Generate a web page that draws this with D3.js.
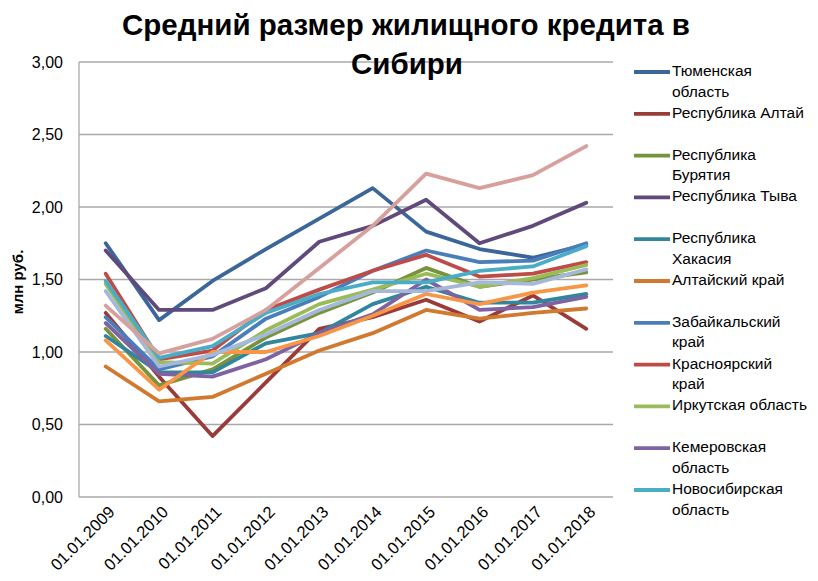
<!DOCTYPE html>
<html lang="ru">
<head>
<meta charset="utf-8">
<script src="https://cdn.jsdelivr.net/npm/d3@7"></script>
<style>
  html, body { margin: 0; padding: 0; background: #fff; }
  svg { display: block; font-family: "Liberation Sans", Arial, sans-serif; }
</style>
</head>
<body>
<svg id="chart" width="818" height="581"></svg>
<script>
// Даты (на 1 января каждого года)
const years = ["01.01.2009", "01.01.2010", "01.01.2011", "01.01.2012", "01.01.2013",
               "01.01.2014", "01.01.2015", "01.01.2016", "01.01.2017", "01.01.2018"];

// Средний размер жилищного кредита, млн руб.
const tyumen       = [1.75, 1.22, 1.49, 1.71, 1.92, 2.13, 1.83, 1.71, 1.65, 1.74];
const altaiRep     = [1.27, 0.83, 0.42, 0.79, 1.16, 1.24, 1.36, 1.21, 1.39, 1.16];
const buryatia     = [1.16, 0.77, 0.88, 1.10, 1.27, 1.41, 1.58, 1.45, 1.50, 1.55];
const tyva         = [1.70, 1.29, 1.29, 1.44, 1.76, 1.87, 2.05, 1.75, 1.87, 2.03];
const khakassia    = [1.11, 0.86, 0.86, 1.06, 1.13, 1.33, 1.45, 1.34, 1.34, 1.40];
const altaiKrai    = [0.90, 0.66, 0.69, 0.85, 1.01, 1.13, 1.29, 1.23, 1.27, 1.30];
const zabaikalsky  = [1.24, 0.88, 0.97, 1.23, 1.38, 1.56, 1.70, 1.62, 1.63, 1.75];
const krasnoyarsk  = [1.54, 0.95, 1.01, 1.29, 1.43, 1.56, 1.67, 1.52, 1.54, 1.62];
const irkutsk      = [1.47, 0.93, 0.92, 1.15, 1.33, 1.43, 1.54, 1.45, 1.51, 1.60];
const kemerovo     = [1.20, 0.85, 0.83, 0.95, 1.13, 1.26, 1.50, 1.29, 1.31, 1.38];
const novosibirsk  = [1.49, 0.96, 1.04, 1.27, 1.40, 1.48, 1.48, 1.56, 1.59, 1.73];
const omsk         = [1.08, 0.74, 1.00, 1.00, 1.11, 1.25, 1.40, 1.33, 1.41, 1.46];
const tomsk        = [1.42, 0.90, 0.98, 1.12, 1.29, 1.42, 1.42, 1.48, 1.47, 1.57];
const russia       = [1.32, 0.99, 1.09, 1.29, 1.58, 1.87, 2.23, 2.13, 2.22, 2.42];

const regionNames = ["Тюменская область", "Республика Алтай", "Республика Бурятия",
  "Республика Тыва", "Республика Хакасия", "Алтайский край", "Забайкальский край",
  "Красноярский край", "Иркутская область", "Кемеровская область",
  "Новосибирская область", "Омская область", "Томская область", "Российская Федерация"];
const regionValues = [tyumen, altaiRep, buryatia, tyva, khakassia, altaiKrai, zabaikalsky,
  krasnoyarsk, irkutsk, kemerovo, novosibirsk, omsk, tomsk, russia];
const regionColors = ["#3B6699", "#983B39", "#77933C", "#604A7B", "#31869D", "#D0792F",
  "#4A7EBB", "#BE4B48", "#9BBB59", "#7E62A1", "#4BACC6", "#F79646", "#A6B8DA", "#D8A09D"];

// Подписи легенды (переносы строк, как в легенде диаграммы); помещается 11 элементов
const legendLines = [["Тюменская", "область"], ["Республика Алтай"], ["Республика", "Бурятия"],
  ["Республика Тыва"], ["Республика", "Хакасия"], ["Алтайский край"], ["Забайкальский", "край"],
  ["Красноярский", "край"], ["Иркутская область"], ["Кемеровская", "область"],
  ["Новосибирская", "область"]];

const yTicks = [0, 0.5, 1, 1.5, 2, 2.5, 3];
const titleLines = ["Средний размер жилищного кредита в", "Сибири"];
const yAxisTitle = "млн руб.";

const series = regionNames.map((name, i) => ({ name, color: regionColors[i], values: regionValues[i] }));

const svg = d3.select("#chart");
const plot = { left: 79, right: 613, top: 62, bottom: 497 };

const x = d3.scaleBand().domain(years).range([plot.left, plot.right]).padding(0);
const xc = d => x(d) + x.bandwidth() / 2;
const y = d3.scaleLinear().domain([0, 3]).range([plot.bottom, plot.top]);

// Горизонтальная сетка
svg.append("g")
  .selectAll("line")
  .data(yTicks)
  .join("line")
  .attr("x1", plot.left).attr("x2", plot.right)
  .attr("y1", d => y(d)).attr("y2", d => y(d))
  .attr("stroke", "#A9A9A9").attr("stroke-width", 1.3);

// Вертикальная ось
svg.append("line")
  .attr("x1", plot.left).attr("x2", plot.left)
  .attr("y1", y(3)).attr("y2", y(0))
  .attr("stroke", "#A9A9A9").attr("stroke-width", 1.3);

// Подписи оси Y
const fmt = d => d.toFixed(2).replace(".", ",");
const yAxis = svg.append("g")
  .attr("transform", `translate(${plot.left - 16},0)`)
  .call(d3.axisLeft(y).tickValues(yTicks).tickFormat(fmt).tickSize(0).tickPadding(0));
yAxis.select(".domain").remove();
yAxis.selectAll("text")
  .attr("font-family", "Liberation Sans, Arial, sans-serif")
  .attr("font-size", 16).attr("fill", "#000");

// Подписи оси X (повёрнуты на 45°)
const xAxis = svg.append("g")
  .attr("transform", `translate(0,${plot.bottom})`)
  .call(d3.axisBottom(x).tickSize(0).tickPadding(0));
xAxis.select(".domain").remove();
xAxis.selectAll("text")
  .attr("font-family", "Liberation Sans, Arial, sans-serif")
  .attr("font-size", 16.5).attr("fill", "#000")
  .attr("text-anchor", "end")
  .attr("dy", null).attr("y", 0)
  .attr("transform", "translate(7,13) rotate(-45)")
  .attr("dominant-baseline", "middle");

// Линии рядов
const line = d3.line()
  .x((d, i) => xc(years[i]))
  .y(d => y(d));

svg.append("g")
  .selectAll("path")
  .data(series)
  .join("path")
  .attr("d", d => line(d.values))
  .attr("fill", "none")
  .attr("stroke", d => d.color)
  .attr("stroke-width", 3.8)
  .attr("stroke-linejoin", "round")
  .attr("stroke-linecap", "round");

// Название оси Y
svg.append("text")
  .attr("transform", "translate(23,282) rotate(-90)")
  .attr("text-anchor", "middle")
  .attr("font-size", 15).attr("font-weight", "bold")
  .text(yAxisTitle);

// Заголовок
const title = svg.append("g").attr("font-weight", "bold").attr("text-anchor", "middle");
const t1 = title.append("text").attr("x", 406).attr("y", 35).attr("font-size", 28).text(titleLines[0]);
const target = 568;
const fs = 28 * target / t1.node().getComputedTextLength();
t1.attr("font-size", fs);
title.append("text").attr("x", 407).attr("y", 74).attr("font-size", fs).text(titleLines[1]);

// Легенда
const legend = svg.append("g");
const step = 41.8, lineH = 20.5;
legendLines.forEach((lines, i) => {
  const cy = 72 + i * step;
  legend.append("line")
    .attr("x1", 634).attr("x2", 670)
    .attr("y1", cy).attr("y2", cy)
    .attr("stroke", series[i].color).attr("stroke-width", 3.8);
  const t = legend.append("text")
    .attr("x", 672).attr("y", cy)
    .attr("font-size", 15.5)
    .attr("dominant-baseline", "middle");
  lines.forEach((s, k) => {
    t.append("tspan").attr("x", 672).attr("y", cy + k * lineH).text(s);
  });
});
</script>
</body>
</html>
